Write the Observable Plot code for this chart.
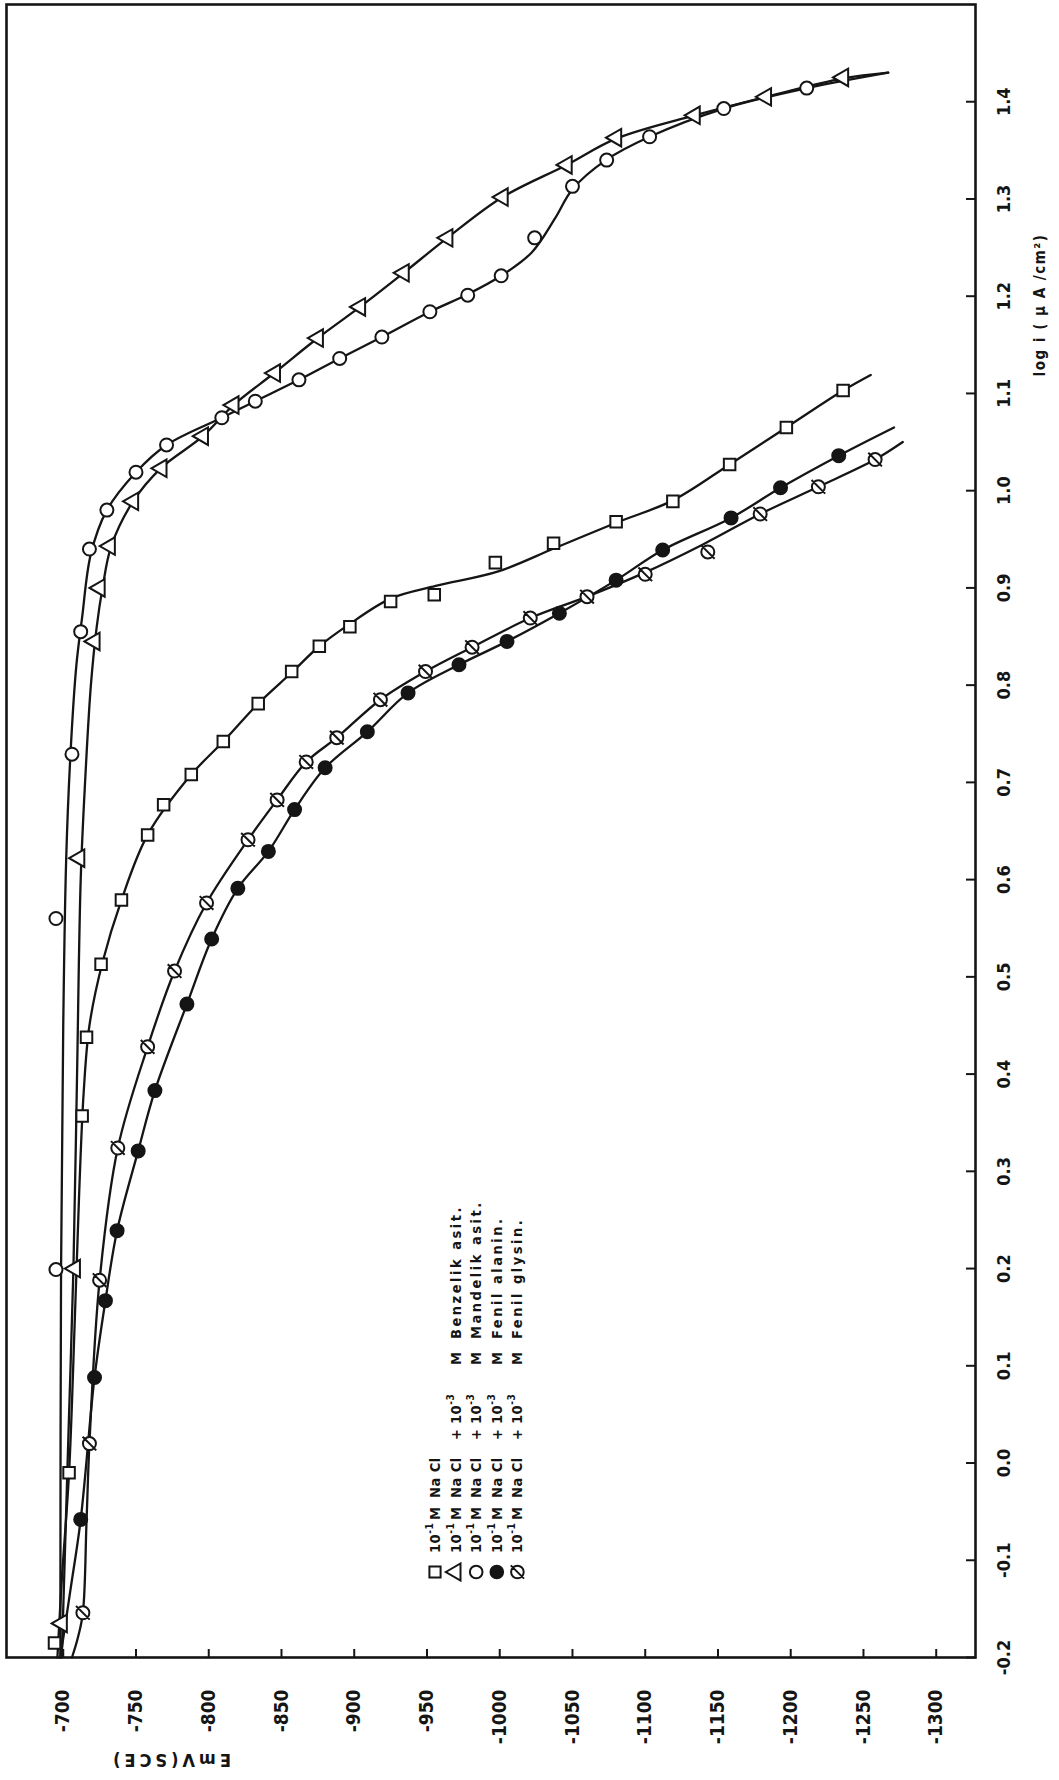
<!DOCTYPE html>
<html>
<head>
<meta charset="utf-8">
<script src="https://cdn.jsdelivr.net/npm/d3@7"></script>
<script src="https://cdn.jsdelivr.net/npm/@observablehq/plot@0.6"></script>
<style>
  body { margin: 0; background: #fff; }
  svg { display: block; }
</style>
</head>
<body>
<div id="chart"></div>
<script>
// ---- axis ticks ----
const eTicks = [-700, -750, -800, -850, -900, -950, -1000, -1050, -1100, -1150, -1200, -1250, -1300];
const logTicks = [-0.2, -0.1, 0.0, 0.1, 0.2, 0.3, 0.4, 0.5, 0.6, 0.7, 0.8, 0.9, 1.0, 1.1, 1.2, 1.3, 1.4];
const xTitle = "EmV(SCE)";
const yTitle = "log i ( μ A /cm²)";

// ---- series: [E (mV SCE), log i] ----
// □ 10^-1 M NaCl
const naclPts = [[-694,-0.185],[-704,-0.01],[-713,0.357],[-716,0.438],[-726,0.513],[-740,0.579],[-758,0.646],[-769,0.677],[-788,0.708],[-810,0.742],[-834,0.781],[-857,0.814],[-876,0.84],[-897,0.86],[-925,0.886],[-955,0.893],[-997,0.926],[-1037,0.946],[-1080,0.968],[-1119,0.989],[-1158,1.027],[-1197,1.065],[-1236,1.103]];
const naclLine = [[-696,-0.2],[-699,-0.12],[-704,-0.01],[-708,0.15],[-711,0.28],[-714,0.38],[-718,0.45],[-727,0.515],[-740,0.579],[-758,0.646],[-788,0.708],[-810,0.742],[-834,0.781],[-857,0.813],[-876,0.84],[-896,0.862],[-925,0.889],[-956,0.902],[-999,0.917],[-1038,0.941],[-1080,0.967],[-1119,0.99],[-1158,1.027],[-1197,1.065],[-1236,1.103],[-1255,1.119]];

// △ + 10^-3 M Benzelik asit
const benzPts = [[-699,-0.165],[-708,0.2],[-711,0.622],[-721.5,0.845],[-725,0.9],[-732,0.943],[-748,0.989],[-767.5,1.023],[-796,1.056],[-817,1.088],[-845.5,1.121],[-875,1.157],[-904,1.189],[-934,1.224],[-964,1.26],[-1002,1.302],[-1046,1.335],[-1080,1.363],[-1134,1.386],[-1183,1.405],[-1236,1.425]];
const benzLine = [[-699,-0.2],[-701,-0.1],[-704,0.05],[-707,0.2],[-709.5,0.4],[-712,0.6],[-715,0.7],[-719,0.8],[-723,0.86],[-727,0.9],[-733,0.943],[-748,0.989],[-767,1.023],[-796,1.056],[-817,1.088],[-845,1.121],[-875,1.157],[-904,1.189],[-934,1.224],[-964,1.26],[-1002,1.302],[-1046,1.335],[-1080,1.362],[-1134,1.386],[-1183,1.405],[-1236,1.424],[-1267,1.43]];

// ○ + 10^-3 M Mandelik asit
const mandPts = [[-695,0.199],[-695,0.56],[-706,0.729],[-712,0.855],[-718,0.94],[-730,0.98],[-750,1.019],[-771,1.047],[-809,1.075],[-832,1.092],[-862,1.114],[-890,1.136],[-919,1.158],[-952,1.184],[-978,1.201],[-1001,1.221],[-1024,1.26],[-1050,1.313],[-1073.5,1.34],[-1103,1.364],[-1154,1.393],[-1211,1.414]];
const mandLine = [[-698,-0.2],[-698.5,0.2],[-700,0.45],[-702,0.62],[-705,0.73],[-709,0.82],[-713,0.87],[-719,0.935],[-730,0.98],[-750,1.019],[-771,1.047],[-809,1.075],[-832,1.092],[-862,1.114],[-890,1.136],[-919,1.158],[-952,1.184],[-978,1.202],[-1001,1.221],[-1022,1.245],[-1038,1.28],[-1050,1.31],[-1073,1.34],[-1103,1.364],[-1154,1.393],[-1211,1.414],[-1267,1.43]];

// ● + 10^-3 M Fenil alanin
const alanPts = [[-712,-0.058],[-721.5,0.088],[-729,0.167],[-737,0.239],[-751.5,0.321],[-763,0.383],[-785,0.472],[-802,0.539],[-820,0.591],[-841,0.629],[-859,0.672],[-880,0.715],[-909,0.752],[-937,0.792],[-972,0.821],[-1005,0.845],[-1041,0.874],[-1080,0.908],[-1112,0.939],[-1159,0.972],[-1193,1.003],[-1233,1.036]];
const alanLine = [[-698,-0.2],[-705,-0.13],[-712,-0.058],[-721.5,0.088],[-729,0.167],[-737,0.239],[-751.5,0.321],[-763,0.383],[-785,0.472],[-802,0.539],[-820,0.591],[-841,0.629],[-859,0.672],[-880,0.715],[-909,0.752],[-937,0.792],[-972,0.821],[-1005,0.845],[-1041,0.874],[-1080,0.908],[-1112,0.939],[-1159,0.972],[-1193,1.003],[-1233,1.036],[-1271,1.065]];

// Ø + 10^-3 M Fenil glysin
const glyPts = [[-713.5,-0.154],[-718,0.02],[-725,0.188],[-737.5,0.324],[-758,0.428],[-776.5,0.506],[-798.5,0.576],[-827,0.641],[-847,0.682],[-867,0.721],[-888,0.746],[-918,0.785],[-949,0.814],[-981,0.839],[-1021,0.869],[-1060,0.891],[-1100,0.914],[-1143,0.937],[-1179,0.976],[-1219,1.004],[-1258,1.032]];
const glyLine = [[-706,-0.2],[-710,-0.18],[-713.5,-0.154],[-716,-0.06],[-718,0.02],[-725,0.188],[-737.5,0.324],[-758,0.428],[-776.5,0.506],[-798.5,0.576],[-827,0.641],[-847,0.682],[-867,0.721],[-888,0.746],[-918,0.785],[-949,0.814],[-981,0.839],[-1021,0.869],[-1060,0.891],[-1100,0.916],[-1140,0.945],[-1179,0.976],[-1219,1.004],[-1258,1.032],[-1277,1.05]];

const legendNames = ["", "Benzelik asit.", "Mandelik asit.", "Fenil alanin.", "Fenil glysin."];

// ---- symbols ----
const triLeft = { draw(ctx, size) {
  const R = Math.sqrt(size / 1.299);
  ctx.moveTo(-R, 0); ctx.lineTo(R / 2, -R * 0.866); ctx.lineTo(R / 2, R * 0.866); ctx.closePath();
}};
const slashCircle = { draw(ctx, size) {
  const r = Math.sqrt(size / Math.PI);
  ctx.moveTo(r, 0); ctx.arc(0, 0, r, 0, 2 * Math.PI);
  const k = r * 1.05;
  ctx.moveTo(-k, -k); ctx.lineTo(k, k);
}};

const INK = "#151515";
const FONT = "'DejaVu Sans Condensed', 'DejaVu Sans', sans-serif";
const X = d => d[0], Y = d => d[1];
const lineOpts = {x: X, y: Y, curve: "catmull-rom", stroke: INK, strokeWidth: 2.3};
const dotOpts = {x: X, y: Y, r: 6.5, stroke: INK, strokeWidth: 2, fill: "white"};

const chart = Plot.plot({
  width: 1059,
  height: 1780,
  marginLeft: 6,
  marginRight: 84,
  marginTop: 4,
  marginBottom: 123,
  style: {background: "white", color: INK},
  x: {domain: [-661, -1327], axis: null},
  y: {domain: [-0.2, 1.5], axis: null},
  marks: [
    Plot.axisX(eTicks, {anchor: "bottom", tickSize: -8, tickFormat: () => "", label: null, strokeWidth: 2}),
    Plot.axisY(logTicks, {anchor: "right", tickSize: -10, tickFormat: () => "", label: null, strokeWidth: 2}),
    Plot.frame({stroke: INK, strokeWidth: 2.6}),
    Plot.text(eTicks, {x: d => d, frameAnchor: "bottom", dy: 32, rotate: -90, textAnchor: "end", lineAnchor: "middle",
      text: d => String(d), fontSize: 19, fontWeight: "bold", fontFamily: FONT, fill: INK, ariaLabel: "xlab"}),
    Plot.text(logTicks, {y: d => d, frameAnchor: "right", dx: 29, rotate: -90, textAnchor: "middle", lineAnchor: "middle",
      text: d => d.toFixed(1), fontSize: 18, fontWeight: "bold", fontFamily: FONT, fill: INK, ariaLabel: "ylab"}),
    Plot.line(naclLine, lineOpts),
    Plot.line(benzLine, lineOpts),
    Plot.line(mandLine, lineOpts),
    Plot.line(alanLine, lineOpts),
    Plot.line(glyLine, lineOpts),
    Plot.dot(naclPts, {...dotOpts, symbol: "square"}),
    Plot.dot(benzPts, {...dotOpts, symbol: triLeft}),
    Plot.dot(mandPts, {...dotOpts, symbol: "circle"}),
    Plot.dot(alanPts, {...dotOpts, symbol: "circle", fill: INK}),
    Plot.dot(glyPts, {...dotOpts, symbol: slashCircle})
  ]
});

document.getElementById("chart").appendChild(chart);
const svg = d3.select(chart);
svg.selectAll('g[aria-label="xlab"] text').attr("letter-spacing", 4);
svg.selectAll('g[aria-label="ylab"] text').attr("letter-spacing", 3);

// axis titles
svg.append("text")
  .attr("transform", "translate(1040,305) rotate(-90)")
  .attr("text-anchor", "middle").attr("dominant-baseline", "central")
  .attr("font-family", FONT).attr("font-weight", "bold").attr("font-size", 15)
  .attr("letter-spacing", 1.5).attr("fill", INK)
  .text(yTitle);
svg.append("text")
  .attr("transform", "translate(170,1760) rotate(180)")
  .attr("text-anchor", "middle").attr("dominant-baseline", "central")
  .attr("font-family", FONT).attr("font-weight", "bold").attr("font-size", 18)
  .attr("letter-spacing", 4).attr("fill", INK)
  .text(xTitle);

// legend (rotated, read bottom to top); offsets measured upward from the symbol row
const legendSymbols = [d3.symbolSquare, triLeft, d3.symbolCircle, d3.symbolCircle, slashCircle];
const legendFill = ["white", "white", "white", INK, "white"];
const symRow = 1572;
const lg = svg.append("g").attr("font-family", FONT).attr("font-weight", "bold").attr("font-size", 14.5)
  .attr("text-anchor", "start").attr("fill", INK);
legendNames.forEach((name, i) => {
  const x = 435 + i * 20.6;
  lg.append("path")
    .attr("d", d3.symbol(legendSymbols[i], 125)())
    .attr("transform", `translate(${x},${symRow})`)
    .attr("fill", legendFill[i]).attr("stroke", INK).attr("stroke-width", 2);
  const t = lg.append("text")
    .attr("transform", `translate(${x},${symRow}) rotate(-90)`)
    .attr("text-anchor", "start")
    .attr("letter-spacing", 0.5);
  const main = (off, s) => t.append("tspan").attr("x", off).attr("y", 5).text(s);
  const sup = s => t.append("tspan").attr("y", -2).attr("font-size", 10).text(s);
  main(19, "10"); sup("-1");
  main(52, "M");
  main(74, "Na Cl");
  if (name) {
    main(132, "+");
    main(148, "10"); sup("-3");
    main(207, "M");
    main(233, name).attr("letter-spacing", 2.5);
  }
});
</script>
</body>
</html>
